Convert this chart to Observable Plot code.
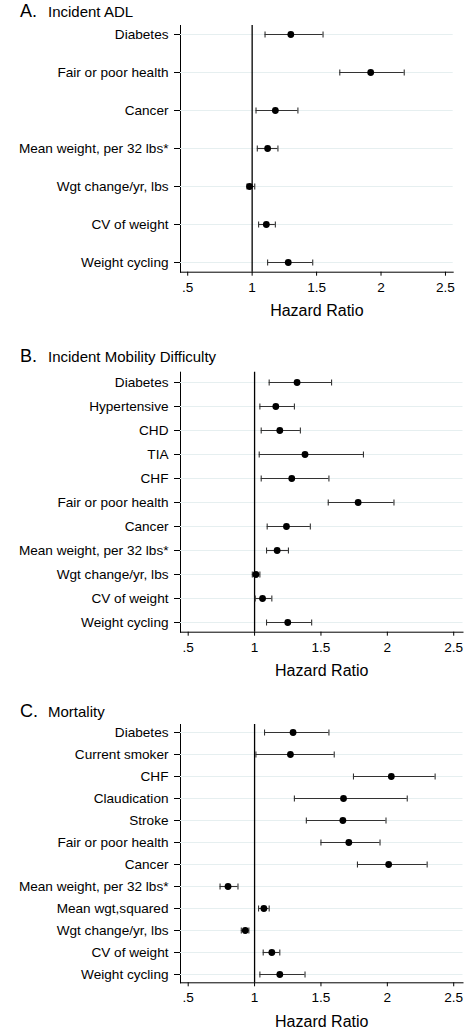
<!DOCTYPE html>
<html><head><meta charset="utf-8">
<script src="https://cdn.jsdelivr.net/npm/d3@7"></script>
<script src="https://cdn.jsdelivr.net/npm/@observablehq/plot@0.6"></script>
<style>
body{margin:0;background:#fff;font-family:"Liberation Sans",Arial,sans-serif;}
#wrap{position:relative;width:466px;height:1032px;overflow:hidden;background:#fff;}
.panel{position:absolute;left:0;}
.title{position:absolute;left:20px;white-space:nowrap;color:#000;font-size:18px;line-height:18px;z-index:2;}
.title .l{display:inline-block;width:28px;font-size:18px;}
.title .t{font-size:15px;}
</style></head><body><div id="wrap"></div>
<script>
// Panel A: Incident ADL
const labelsA = ["Diabetes","Fair or poor health","Cancer","Mean weight, per 32 lbs*","Wgt change/yr, lbs","CV of weight","Weight cycling"];
const hrA = [1.30, 1.92, 1.18, 1.12, 0.98, 1.11, 1.28];
const loA = [1.10, 1.68, 1.03, 1.04, 0.96, 1.05, 1.12];
const hiA = [1.55, 2.18, 1.355, 1.20, 1.02, 1.18, 1.47];

// Panel B: Incident Mobility Difficulty
const labelsB = ["Diabetes","Hypertensive","CHD","TIA","CHF","Fair or poor health","Cancer","Mean weight, per 32 lbs*","Wgt change/yr, lbs","CV of weight","Weight cycling"];
const hrB = [1.32, 1.16, 1.19, 1.38, 1.28, 1.78, 1.24, 1.17, 1.01, 1.06, 1.25];
const loB = [1.11, 1.04, 1.05, 1.035, 1.05, 1.555, 1.095, 1.09, 0.983, 1.005, 1.09];
const hiB = [1.58, 1.30, 1.345, 1.82, 1.56, 2.05, 1.42, 1.255, 1.04, 1.13, 1.43];

// Panel C: Mortality
const labelsC = ["Diabetes","Current smoker","CHF","Claudication","Stroke","Fair or poor health","Cancer","Mean weight, per 32 lbs*","Mean wgt,squared","Wgt change/yr, lbs","CV of weight","Weight cycling"];
const hrC = [1.29, 1.27, 2.03, 1.67, 1.665, 1.71, 2.01, 0.80, 1.07, 0.93, 1.13, 1.19];
const loC = [1.075, 1.01, 1.745, 1.30, 1.39, 1.50, 1.775, 0.74, 1.03, 0.90, 1.065, 1.04];
const hiC = [1.56, 1.60, 2.36, 2.15, 1.99, 1.945, 2.30, 0.875, 1.11, 0.957, 1.19, 1.38];

const xTicks = [0.5, 1, 1.5, 2, 2.5];
const xTickLabels = [".5", "1", "1.5", "2", "2.5"];
const refValue = 1;
const axisTitle = "Hazard Ratio";

const capSymbol = {
  draw(context, size) {
    const r = Math.sqrt(size / Math.PI);
    context.moveTo(0, -r);
    context.lineTo(0, r);
  }
};

const wrap = document.getElementById("wrap");

function panel(letter, name, labels, hr, lo, hi, cfg) {
  const rows = labels.map((label, i) => ({label, hr: hr[i], lo: lo[i], hi: hi[i]}));
  const chart = Plot.plot({
    width: 466,
    height: cfg.height,
    marginLeft: 180,
    marginRight: cfg.marginRight,
    marginTop: cfg.marginTop,
    marginBottom: cfg.marginBottom,
    style: {fontFamily: "'Liberation Sans', Arial, sans-serif", fontSize: "13.6px", color: "#000", background: "transparent", overflow: "visible"},
    x: {domain: cfg.domain, ticks: xTicks, tickFormat: d => xTickLabels[xTicks.indexOf(d)], tickSize: 4, tickPadding: 6, label: null, line: true},
    y: {type: "point", domain: labels, padding: 0, inset: 7.5, tickSize: 6, tickPadding: 6, label: null, line: true},
    marks: [
      Plot.ruleY(rows, {y: "label", stroke: "#e6eff0", strokeWidth: 1}),
      Plot.ruleX([refValue], {stroke: "#000", strokeWidth: 1.3}),
      Plot.ruleY(rows, {y: "label", x1: "lo", x2: "hi", stroke: "#333", strokeWidth: 1.1}),
      Plot.dot(rows, {x: "lo", y: "label", symbol: capSymbol, r: 3, fill: "none", stroke: "#333", strokeWidth: 1.1}),
      Plot.dot(rows, {x: "hi", y: "label", symbol: capSymbol, r: 3, fill: "none", stroke: "#333", strokeWidth: 1.1}),
      Plot.dot(rows, {x: "hr", y: "label", r: 3.4, fill: "#000", stroke: "none"}),
      Plot.text([axisTitle], {frameAnchor: "bottom", dy: 39, fontSize: 16, fontWeight: "normal", lineAnchor: "middle", fill: "#000"})
    ]
  });
  const box = document.createElement("div");
  box.className = "panel";
  box.style.top = cfg.top + "px";
  box.appendChild(chart);
  wrap.appendChild(box);
  const t = document.createElement("div");
  t.className = "title";
  t.style.top = cfg.titleTop + "px";
  t.innerHTML = `<span class="l"></span><span class="t"></span>`;
  t.querySelector(".l").textContent = letter;
  t.querySelector(".t").textContent = name;
  wrap.appendChild(t);
}

panel("A.", "Incident ADL", labelsA, hrA, loA, hiA,
  {top: 0, height: 335, marginTop: 25, marginBottom: 63.3, marginRight: 13.3, domain: [0.444, 2.56], titleTop: 2.1});
panel("B.", "Incident Mobility Difficulty", labelsB, hrB, loB, hiB,
  {top: 335, height: 355, marginTop: 36.7, marginBottom: 58.3, marginRight: 3.5, domain: [0.442, 2.57], titleTop: 346.5});
panel("C.", "Mortality", labelsC, hrC, loC, hiC,
  {top: 690, height: 342, marginTop: 34, marginBottom: 49.7, marginRight: 3.5, domain: [0.442, 2.57], titleTop: 701.5});
</script>
</body></html>
